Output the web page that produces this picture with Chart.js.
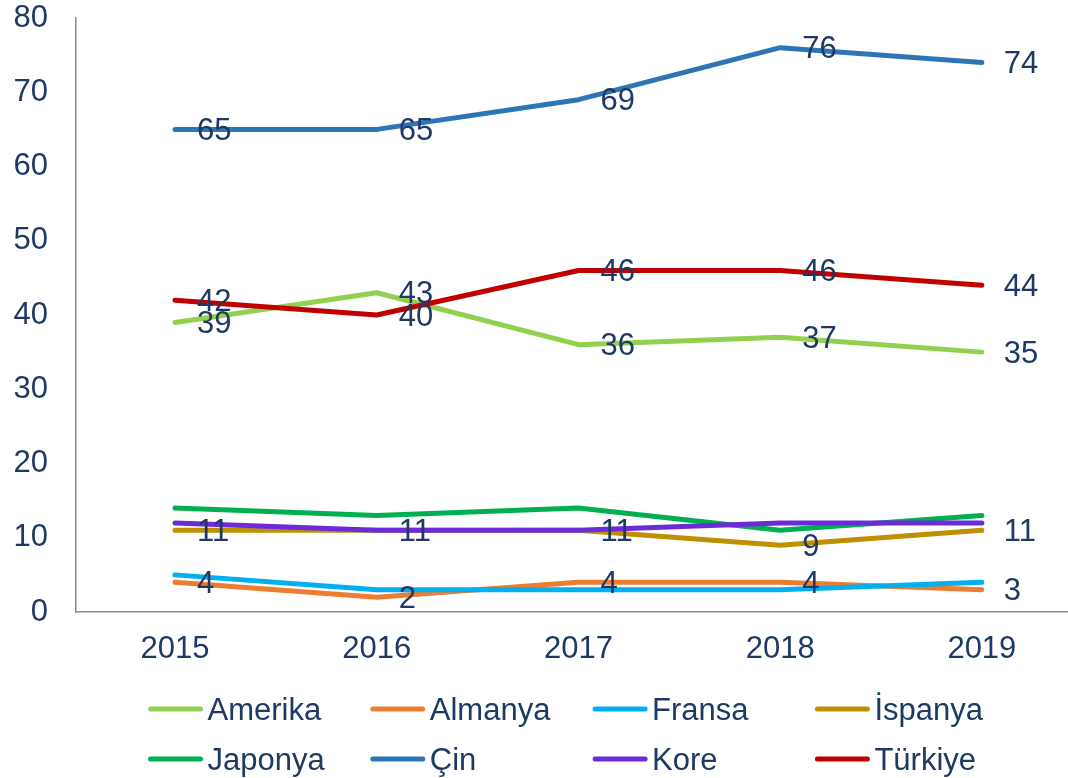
<!DOCTYPE html>
<html>
<head>
<meta charset="utf-8">
<script src="https://cdn.jsdelivr.net/npm/chart.js@4.4.1/dist/chart.umd.min.js"></script>
<style>
html,body{margin:0;padding:0;background:#fff;overflow:hidden;}
canvas{display:block;}
</style>
</head>
<body>
<canvas id="c" width="1068" height="778"></canvas>
<script>
const years = [2015, 2016, 2017, 2018, 2019];
const yTicks = [0, 10, 20, 30, 40, 50, 60, 70, 80];

const seriesNames = ['Amerika', 'Almanya', 'Fransa', 'İspanya', 'Japonya', 'Çin', 'Kore', 'Türkiye'];
const amerika = [39, 43, 36, 37, 35];
const almanya = [4, 2, 4, 4, 3];
const fransa  = [5, 3, 3, 3, 4];
const ispanya = [11, 11, 11, 9, 11];
const japonya = [14, 13, 14, 11, 13];
const cin     = [65, 65, 69, 76, 74];
const kore    = [12, 11, 11, 12, 12];
const turkiye = [42, 40, 46, 46, 44];
const seriesValues = [amerika, almanya, fransa, ispanya, japonya, cin, kore, turkiye];
const labelled = ['Amerika', 'Almanya', 'İspanya', 'Çin', 'Türkiye'];

const colors = ['#92D050', '#ED7D31', '#00B0F0', '#BF9000', '#00B050', '#2E75B6', '#6C2BD9', '#C00000'];
const textColor = '#1F3864';
const FONT = '"Liberation Sans", Arial, sans-serif';
const FS = 31;

const datasets = seriesNames.map((name, i) => ({
  label: name,
  data: years.map((y, j) => ({x: y, y: seriesValues[i][j]})),
  borderColor: colors[i],
  backgroundColor: colors[i],
  borderWidth: 5,
  borderCapStyle: 'round',
  borderJoinStyle: 'round',
  pointRadius: 0,
  pointHoverRadius: 0,
  tension: 0,
  fill: false,
  clip: false,
  order: seriesNames.length - 1 - i
}));

const dataLabelPlugin = {
  id: 'dataLabels',
  afterDatasetsDraw(chart) {
    const ctx = chart.ctx;
    ctx.save();
    ctx.font = FS + 'px ' + FONT;
    ctx.fillStyle = textColor;
    ctx.textAlign = 'left';
    ctx.textBaseline = 'middle';
    chart.data.datasets.forEach((ds, i) => {
      if (!labelled.includes(ds.label)) return;
      const meta = chart.getDatasetMeta(i);
      meta.data.forEach((pt, j) => {
        ctx.fillText(String(seriesValues[i][j]), pt.x + 22, pt.y + 2);
      });
    });
    ctx.restore();
  }
};

const legendPlugin = {
  id: 'gridLegend',
  afterDraw(chart) {
    const ctx = chart.ctx;
    ctx.save();
    ctx.font = FS + 'px ' + FONT;
    ctx.textAlign = 'left';
    ctx.textBaseline = 'middle';
    chart.data.datasets.forEach((ds, i) => {
      const col = i % 4, row = Math.floor(i / 4);
      const x0 = 150.5 + col * 222.3;
      const y = 709 + row * 50;
      ctx.strokeStyle = ds.borderColor;
      ctx.lineWidth = 5;
      ctx.lineCap = 'round';
      ctx.beginPath();
      ctx.moveTo(x0, y);
      ctx.lineTo(x0 + 50, y);
      ctx.stroke();
      ctx.fillStyle = textColor;
      ctx.fillText(ds.label, x0 + 57, y + 2);
    });
    ctx.restore();
  }
};

new Chart(document.getElementById('c'), {
  type: 'line',
  data: { datasets },
  plugins: [dataLabelPlugin, legendPlugin],
  options: {
    responsive: false,
    animation: false,
    events: [],
    layout: { padding: { left: 0, right: 0, top: 18, bottom: 106 } },
    plugins: { legend: { display: false }, tooltip: { enabled: false } },
    scales: {
      x: {
        type: 'linear',
        min: 2014.509,
        max: 2019.427,
        afterBuildTicks: s => { s.ticks = years.map(v => ({value: v})); },
        afterFit: s => { s.height = 60; s.paddingLeft = 0; s.paddingRight = 0; },
        grid: { display: false, drawTicks: false },
        border: { display: true, color: '#8C8C8C', width: 1.5 },
        ticks: {
          padding: 19,
          color: textColor,
          font: { family: FONT, size: FS },
          callback: v => String(v),
          maxRotation: 0,
          autoSkip: false
        }
      },
      y: {
        min: 0,
        max: 80,
        afterBuildTicks: s => { s.ticks = yTicks.map(v => ({value: v})); },
        afterFit: s => { s.width = 76; s.paddingTop = 0; s.paddingBottom = 0; },
        grid: { display: false, drawTicks: false },
        border: { display: true, color: '#8C8C8C', width: 1.5 },
        ticks: {
          padding: 28,
          color: textColor,
          font: { family: FONT, size: FS },
          callback: v => String(v)
        }
      }
    }
  }
});
</script>
</body>
</html>
